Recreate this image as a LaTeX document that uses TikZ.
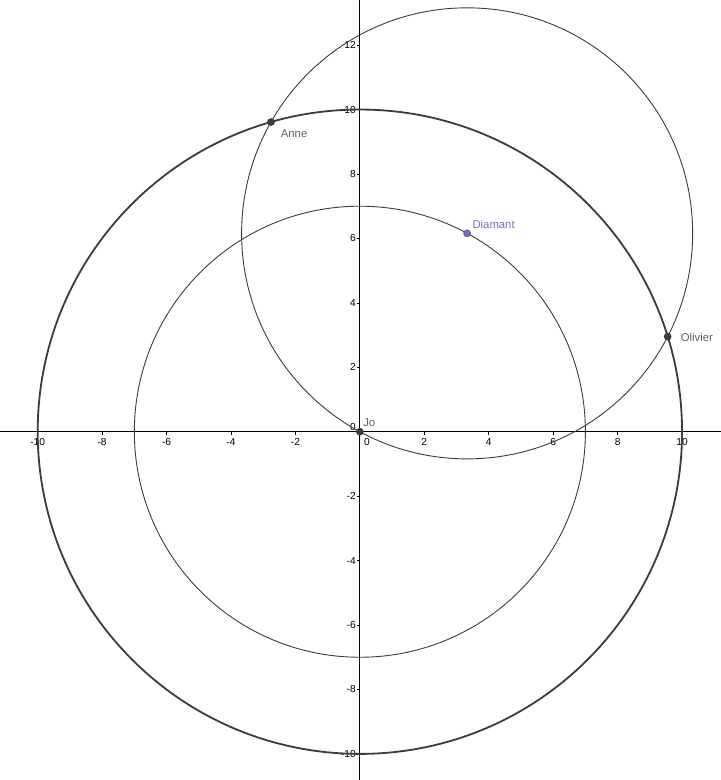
\documentclass[tikz,border=0pt]{standalone}
\usepackage{fontspec}
\setmainfont{Liberation Sans}
\usepackage{tikz}
\usetikzlibrary{calc}
\definecolor{circgray}{RGB}{60,60,60}
\definecolor{lblgray}{RGB}{95,95,95}
\definecolor{diamblue}{RGB}{110,110,200}
\tikzset{>=latex}

\begin{document}
\begin{tikzpicture}[scale=1,
  ticklbl/.style={font=\fontsize{9}{10}\selectfont, inner sep=0pt},
  ptlbl/.style={font=\fontsize{10}{11}\selectfont, text=lblgray, inner sep=0pt, anchor=west},
  pt/.style={circle, fill=circgray, draw=black!80, line width=0.4pt, inner sep=0pt, minimum size=0.22cm}]
\useasboundingbox (-11.17,-10.81) rectangle (11.20,13.40);
% axes
\draw[line width=0.8pt] (-11.17,0) -- (11.20,0);
\draw[line width=0.8pt] (0,-10.81) -- (0,13.40);
\foreach \x in {-10,-8,-6,-4,-2,2,4,6,8,10} {
  \draw[line width=0.6pt] (\x,0) -- (\x,-0.1);
  \node[ticklbl] (xl\x) at (\x,-0.33) {\x};
}
\node[ticklbl] (xl0) at (0.22,-0.33) {0};
\foreach \y in {-10,-8,-6,-4,-2,2,4,6,8,10,12} {
  \draw[line width=0.6pt] (0,\y) -- (-0.1,\y);
  \node[ticklbl, anchor=east] (yl\y) at (-0.12,\y) {\y};
}
\node[ticklbl, anchor=east] (yl0) at (-0.12,0.15) {0};
% points
\coordinate (jo) at (0,0);
\coordinate (diamant) at (61.6:7);
\coordinate (anne) at ({61.6+acos(5/7)}:10);
\coordinate (olivier) at ({61.6-acos(5/7)}:10);
% circles
\draw[circgray, line width=1.6pt] (jo) circle [radius = 10];
\draw[circgray, line width=0.8pt] (jo) circle [radius = 7];
\draw[circgray, line width=0.8pt] (diamant) circle [radius = 7];
\node[pt] (joP) at (jo) {};
\node[pt] (anneP) at (anne) {};
\node[pt] (olivierP) at (olivier) {};
\node[pt, fill=diamblue, draw=black!70] (diamantP) at (diamant) {};
\node[ptlbl] (joL) at ($(jo)+(0.1,0.28)$) {Jo};
\node[ptlbl] (anneL) at ($(anne)+(0.3,-0.37)$) {Anne};
\node[ptlbl, text=diamblue] (diamantL) at ($(diamant)+(0.16,0.28)$) {Diamant};
\node[ptlbl] (olivierL) at ($(olivier)+(0.4,-0.03)$) {Olivier};
\end{tikzpicture}
\end{document}
